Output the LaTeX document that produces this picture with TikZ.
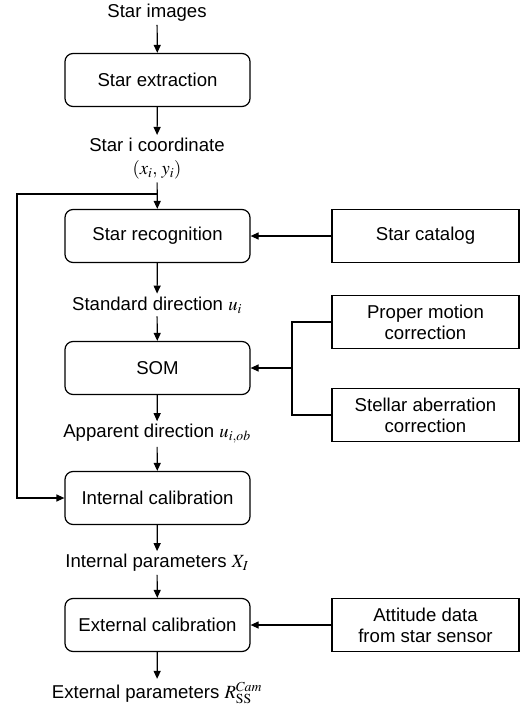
\documentclass[tikz,border=0pt]{standalone}
\usepackage[no-math]{fontspec}
\usepackage{mathptmx}
\setmainfont{Liberation Sans}
\usepackage{tikz}
\usetikzlibrary{positioning, arrows.meta}
\definecolor{ink}{HTML}{000000}

\begin{document}
\begin{tikzpicture}[x=1pt, y=-1pt,
      every node/.style={font=\fontsize{18.6}{21}\selectfont, text=ink},
      box/.style ={draw=ink, line width=1.2pt, rounded corners=8pt, align=center,
                   minimum width=185pt, minimum height=53pt, inner sep=2pt},
      side/.style={draw=ink, line width=1.2pt, align=center,
                   minimum width=187pt, minimum height=53pt, inner sep=2pt},
      lbl/.style ={inner sep=3pt},
      arr/.style ={-{Triangle[length=8pt, width=7pt]}, line width=1.2pt, draw=ink},
      lin/.style ={line width=1.2pt, draw=ink}]

    \useasboundingbox (0,0) rectangle (521,707);

    % main column
    \node[lbl] (imgs) at (157,13)    {Star images};
    \node[box] (ext)  at (157.5,80)  {Star extraction};
    \node[lbl] (crd)  at (157,145)   {Star i coordinate};
    \node[lbl] (xy)   at (157,170)   {$(x_i,\, y_i)$};
    \node[box] (rec)  at (157.5,236) {Star recognition};
    \node[lbl] (std)  at (157,305)   {Standard direction $u_i$};
    \node[box] (som)  at (157.5,368) {SOM};
    \node[lbl] (app)  at (157,434)   {Apparent direction $u_{i,ob}$};
    \node[box] (int)  at (157.5,498) {Internal calibration};
    \node[lbl] (ipar) at (157,563)   {Internal parameters $X_I$};
    \node[box] (extc) at (157.5,625) {External calibration};
    \node[lbl] (epar) at (157,693)   {External parameters $R_{\mathrm{SS}}^{Cam}$};

    % inputs on the right
    \node[side] (cat) at (425.5,236) {Star catalog};
    \node[side] (pmc) at (425.5,322) {Proper motion\\correction};
    \node[side] (sac) at (425.5,415) {Stellar aberration\\correction};
    \node[side] (att) at (425.5,625) {Attitude data\\from star sensor};

    \coordinate (fb)  at (157,194);
    \coordinate (fbl) at (17,194);
    \coordinate (br)  at (292,368);

    \draw[arr] (imgs) -- (ext);
    \draw[arr] (ext)  -- (crd);
    \draw[arr] (xy)   -- (rec);
    \draw[arr] (rec)  -- (std);
    \draw[arr] (std)  -- (som);
    \draw[arr] (som)  -- (app);
    \draw[arr] (app)  -- (int);
    \draw[arr] (int)  -- (ipar);
    \draw[arr] (ipar) -- (extc);
    \draw[arr] (extc) -- (epar);

    \draw[arr] (fb) -- (fbl) |- (int.west);
    \draw[arr] (cat) -- (rec);
    \draw[lin] (pmc.west) -| (br);
    \draw[lin] (sac.west) -| (br);
    \draw[arr] (br) -- (som.east);
    \draw[arr] (att) -- (extc);
  \end{tikzpicture}
\end{document}
